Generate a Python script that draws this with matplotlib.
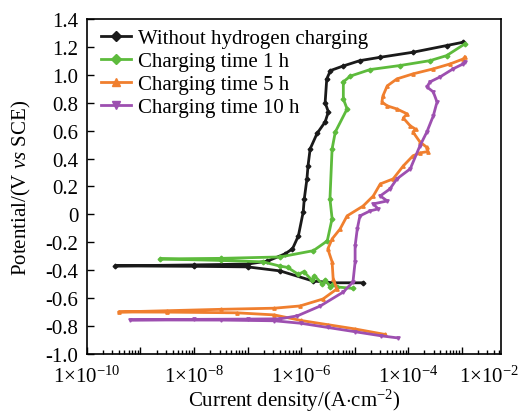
import matplotlib
matplotlib.use("Agg")
import matplotlib.pyplot as plt
import numpy as np
from matplotlib.ticker import LogLocator, FuncFormatter, MultipleLocator

plt.rcParams["font.family"] = ["Liberation Serif", "DejaVu Serif"]
plt.rcParams["mathtext.fontset"] = "custom"
plt.rcParams["mathtext.rm"] = "Liberation Serif"
plt.rcParams["mathtext.it"] = "Liberation Serif:italic"
plt.rcParams["font.size"] = 15

# log10 of current density (A/cm2) and potential (V vs SCE)
black_logi = [-4.84, -5.40, -5.78, -6.39, -7.00, -8.00, -9.47, -8.00, -7.00, -6.63,
              -6.30, -6.16, -6.05, -5.96, -5.94, -5.89, -5.87, -5.83, -5.70, -5.55,
              -5.49, -5.55, -5.52, -5.45, -5.21, -4.90, -4.52, -3.91, -3.28, -2.97]
black_pot = [-0.49, -0.49, -0.477, -0.405, -0.376, -0.372, -0.369, -0.362, -0.356, -0.335,
             -0.283, -0.247, -0.154, 0.017, 0.11, 0.254, 0.347, 0.469, 0.58, 0.662,
             0.734, 0.80, 0.97, 1.03, 1.063, 1.101, 1.125, 1.161, 1.209, 1.233]

green_logi = [-5.03, -5.33, -5.40, -5.45, -5.55, -5.60, -5.75, -5.80, -5.95, -6.05,
              -6.25, -6.40, -6.71, -7.50, -8.63, -7.50, -6.39, -5.77, -5.51, -5.42,
              -5.46, -5.42, -5.36, -5.14, -5.21, -5.21, -5.08, -4.71, -4.15, -3.59,
              -3.28, -2.94]
green_pot = [-0.53, -0.52, -0.50, -0.52, -0.47, -0.50, -0.44, -0.47, -0.41, -0.43,
             -0.38, -0.37, -0.34, -0.33, -0.319, -0.315, -0.305, -0.26, -0.19, -0.03,
             0.11, 0.469, 0.59, 0.755, 0.827, 0.949, 0.99, 1.037, 1.066, 1.101,
             1.137, 1.221]

orange_logi = [-4.43, -5.00, -5.50, -6.00, -6.50, -7.20, -8.50, -9.41, -8.50, -7.50,
               -6.50, -6.02, -5.59, -5.33, -5.40, -5.42, -5.50, -5.42, -5.27, -5.14,
               -4.84, -4.65, -4.52, -4.28, -4.09, -3.91, -3.78, -3.63, -3.65, -3.78,
               -3.91, -3.86, -3.96, -4.09, -4.02, -4.21, -4.39, -4.49, -4.47, -4.39,
               -4.21, -3.91, -3.53, -3.21, -2.97, -2.94]
orange_pot = [-0.86, -0.82, -0.79, -0.76, -0.72, -0.705, -0.70, -0.699, -0.69, -0.68,
              -0.672, -0.656, -0.606, -0.534, -0.462, -0.34, -0.248, -0.176, -0.104, -0.011,
              0.06, 0.132, 0.218, 0.254, 0.347, 0.419, 0.44, 0.45, 0.48, 0.519,
              0.59, 0.61, 0.634, 0.69, 0.72, 0.755, 0.777, 0.805, 0.849, 0.92,
              0.97, 1.006, 1.042, 1.078, 1.113, 1.128]

purple_logi = [-4.19, -4.50, -5.00, -5.50, -6.00, -6.50, -7.50, -9.19, -8.00, -7.00,
               -6.39, -6.07, -5.64, -5.21, -5.03, -4.99, -4.99, -4.95, -4.90, -4.71,
               -4.56, -4.65, -4.39, -4.52, -4.34, -4.21, -3.96, -3.78, -3.65, -3.53,
               -3.46, -3.53, -3.65, -3.59, -3.40, -3.16, -2.97, -2.94]
purple_pot = [-0.885, -0.87, -0.84, -0.81, -0.78, -0.762, -0.757, -0.756, -0.752, -0.75,
              -0.748, -0.727, -0.656, -0.556, -0.484, -0.34, -0.226, -0.104, -0.011, 0.025,
              0.039, 0.075, 0.096, 0.132, 0.182, 0.254, 0.326, 0.49, 0.59, 0.705,
              0.805, 0.877, 0.913, 0.949, 0.985, 1.042, 1.078, 1.092]

labels = ["Without hydrogen charging", "Charging time 1 h",
          "Charging time 5 h", "Charging time 10 h"]
colors = ["#1a1a1a", "#5dbb3c", "#f07f2e", "#9d4fb0"]
markers = ["D", "D", "^", "v"]
series = [(black_logi, black_pot), (green_logi, green_pot),
          (orange_logi, orange_pot), (purple_logi, purple_pot)]

fig = plt.figure(figsize=(5.3, 4.14), dpi=100)
ax = fig.add_axes([0.164, 0.1425, 0.781, 0.8095])

for (logi, pot), lab, c, m in zip(series, labels, colors, markers):
    ax.plot(10 ** np.array(logi), pot, color=c, lw=2.0, marker=m, ms=2.4, label=lab)

ax.set_xscale("log")
ax.set_xlim(1e-10, 5.4e-3)
ax.set_ylim(-1.0, 1.4)

ax.xaxis.set_major_locator(LogLocator(base=10, numticks=20))
ax.xaxis.set_minor_locator(LogLocator(base=10, subs=np.arange(2, 10), numticks=20))


def xfmt(v, pos):
    e = int(round(np.log10(v)))
    if e % 2 == 0:
        return r"$1{\times}10^{%d}$" % e
    return ""


ax.xaxis.set_major_formatter(FuncFormatter(xfmt))
ax.yaxis.set_major_locator(MultipleLocator(0.2))
ax.yaxis.set_major_formatter(FuncFormatter(lambda v, p: "0" if abs(v) < 1e-9 else "%.1f" % v))

ax.tick_params(which="both", direction="in", top=False, right=False, width=1)
ax.tick_params(axis="y", which="major", length=5, pad=6, labelsize=15)
ax.tick_params(axis="x", which="major", length=5, pad=8, labelsize=15)
ax.tick_params(which="minor", length=3)
for s in ax.spines.values():
    s.set_linewidth(1.2)

# the 1e-2 label sits just inside the right edge in the original
ax.annotate(r"$1{\times}10^{-2}$", xy=(0.971, 0), xycoords="axes fraction",
            xytext=(0, -8), textcoords="offset points", ha="center", va="top", fontsize=15)

ax.set_xlabel(r"Current density/(A$\cdot$cm$^{-2}$)", labelpad=0)
ax.set_ylabel(r"Potential/(V $\mathit{vs}$ SCE)", labelpad=9)

ax.legend(loc="upper left", bbox_to_anchor=(0.015, 0.997), frameon=False, fontsize=15,
          markerscale=2.3, numpoints=1, handlelength=1.4, handletextpad=0.35,
          labelspacing=0.17, borderaxespad=0.1, borderpad=0.3)

fig.savefig("out.png", dpi=100)
